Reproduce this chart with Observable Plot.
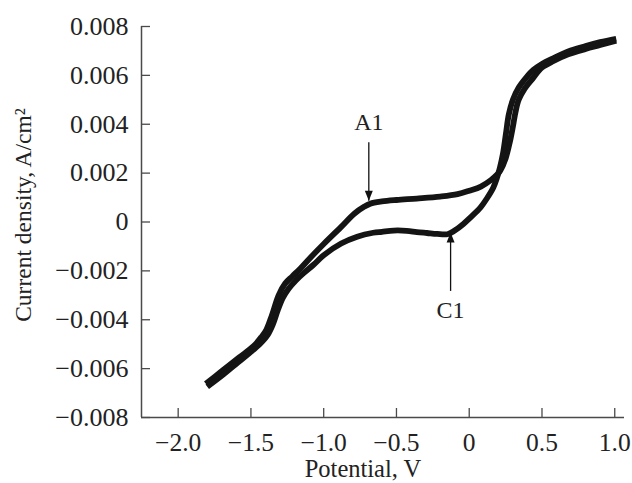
<!DOCTYPE html>
<html><head><meta charset="utf-8">
<script src="https://cdn.jsdelivr.net/npm/d3@7"></script>
<script src="https://cdn.jsdelivr.net/npm/@observablehq/plot@0.6"></script>
<style>body{margin:0;background:#fff}#chart{width:632px;height:483px}</style>
</head><body><div id="chart"></div>
<script>
// Forward (anodic) scan, potential V and current density A/cm2
const forwardV = [-1.81,-1.70,-1.58,-1.48,-1.43,-1.395,-1.355,-1.31,-1.265,-1.215,-1.16,-1.09,-1.00,-0.88,-0.79,-0.72,-0.68,-0.60,-0.50,-0.36,-0.20,-0.08,0.00,0.08,0.15,0.19,0.213,0.25,0.28,0.30,0.318,0.34,0.38,0.44,0.50,0.58,0.68,0.80,0.90,1.01];
const forwardI = [-0.00662,-0.00610,-0.00554,-0.00507,-0.00472,-0.00442,-0.00380,-0.00300,-0.00252,-0.00222,-0.00190,-0.00145,-0.00090,-0.00020,0.00034,0.00063,0.00075,0.00084,0.00090,0.00096,0.00104,0.00114,0.00128,0.00145,0.00172,0.00193,0.00210,0.00260,0.00330,0.00390,0.00450,0.00500,0.00545,0.00590,0.00632,0.00659,0.00686,0.00708,0.00724,0.00742];
// Reverse (cathodic) scan
const reverseV = [1.01,0.90,0.80,0.68,0.58,0.50,0.44,0.39,0.34,0.30,0.272,0.252,0.232,0.21,0.19,0.165,0.12,0.078,0.009,-0.04,-0.10,-0.15,-0.22,-0.29,-0.36,-0.43,-0.52,-0.60,-0.66,-0.77,-0.88,-1.00,-1.07,-1.14,-1.19,-1.24,-1.28,-1.315,-1.35,-1.385,-1.44,-1.51,-1.59,-1.69,-1.80];
const reverseI = [0.00750,0.00736,0.00720,0.00698,0.00671,0.00647,0.00622,0.00590,0.00550,0.00500,0.00440,0.00360,0.00280,0.00220,0.00180,0.00140,0.00095,0.00060,0.00019,-0.00008,-0.00035,-0.00050,-0.00049,-0.00045,-0.00041,-0.00036,-0.00035,-0.00040,-0.00044,-0.00060,-0.00088,-0.00136,-0.00175,-0.00210,-0.00238,-0.00272,-0.00310,-0.00360,-0.00420,-0.00462,-0.00500,-0.00536,-0.00575,-0.00624,-0.00674];

const xDomain = [-2.252, 1.067];
const yDomain = [-0.008, 0.008];
const xTicks = [-2.0,-1.5,-1.0,-0.5,0,0.5,1.0];
const xTickLabels = ["\u22122.0","\u22121.5","\u22121.0","\u22120.5","0","0.5","1.0"];
const yTicks = [-0.008,-0.006,-0.004,-0.002,0,0.002,0.004,0.006,0.008];
const yTickLabels = ["\u22120.008","\u22120.006","\u22120.004","\u22120.002","0","0.002","0.004","0.006","0.008"];

const annotLabels = ["A1","C1"];
const annotV = [-0.69,-0.128];
const annotTip = [0.00087,-0.00043];
const annotTail = [0.00326,-0.00282];
const annotTextI = [0.00406,-0.0036];

const xLabel = "Potential, V";
const yLabel = "Current density, A/cm\u00B2";

const forward = forwardV.map((v,k)=>({v, i: forwardI[k]}));
const reverse = reverseV.map((v,k)=>({v, i: reverseI[k]}));
const annots = annotLabels.map((t,k)=>({t, x: annotV[k], tip: annotTip[k], tail: annotTail[k], ty: annotTextI[k]}));

const arrowHead = {draw(ctx){ ctx.moveTo(0,0); ctx.lineTo(-4,-10); ctx.lineTo(4,-10); ctx.closePath(); }};
const ink = "#141414";
const axisInk = "#4a4a4a";

const chart = Plot.plot({
  width: 632, height: 483,
  marginLeft: 141, marginRight: 8, marginTop: 26, marginBottom: 66,
  style: {fontFamily: "'Liberation Serif', 'Times New Roman', serif", color: "#222", background: "#fff"},
  x: {domain: xDomain},
  y: {domain: yDomain},
  marks: [
    Plot.ruleX([xDomain[0]], {stroke: axisInk, strokeWidth: 1.5}),
    Plot.ruleY([yDomain[0]], {stroke: axisInk, strokeWidth: 1.5}),
    Plot.axisX({ticks: xTicks, tickFormat: d => xTickLabels[xTicks.indexOf(d)], tickSize: -9, tickPadding: 24, fontSize: 25.5, stroke: axisInk, strokeWidth: 1.3, label: null}),
    Plot.axisY({ticks: yTicks, tickFormat: d => yTickLabels[yTicks.indexOf(d)], tickSize: -9, tickPadding: 22, fontSize: 26, stroke: axisInk, strokeWidth: 1.3, label: null}),
    Plot.text([xLabel], {frameAnchor: "bottom", textAnchor: "middle", lineAnchor: "middle", dx: -20, dy: 52, fontSize: 24.5, fill: "#222"}),
    Plot.text([yLabel], {frameAnchor: "left", textAnchor: "middle", lineAnchor: "middle", rotate: -90, dx: -118, dy: -7, fontSize: 23.5, fill: "#222"}),
    Plot.line(forward, {x: "v", y: "i", stroke: ink, strokeWidth: 5.8, curve: "catmull-rom", strokeLinejoin: "round", strokeLinecap: "butt"}),
    Plot.line(reverse, {x: "v", y: "i", stroke: ink, strokeWidth: 5.8, curve: "catmull-rom", strokeLinejoin: "round", strokeLinecap: "butt"}),
    Plot.link(annots, {x1: "x", y1: "tail", x2: "x", y2: "tip", stroke: "#111", strokeWidth: 1.3}),
    Plot.dot(annots, {x: "x", y: "tip", symbol: arrowHead, rotate: d => d.tip < d.tail ? 0 : 180, fill: "#111", stroke: "none", r: 4}),
    Plot.text(annots, {x: "x", y: "ty", text: "t", fontSize: 24, fill: "#222"})
  ]
});
document.getElementById("chart").appendChild(chart);
</script>
</body></html>
